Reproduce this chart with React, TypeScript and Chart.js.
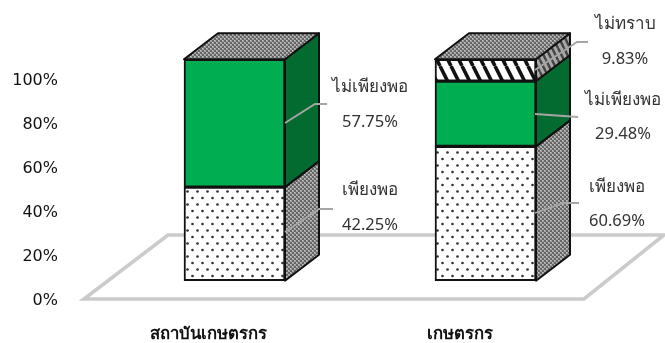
import React, { useEffect, useRef } from "react";
import { Chart, registerables } from "chart.js";

Chart.register(...registerables);

const categories = ["สถาบันเกษตรกร", "เกษตรกร"];
const seriesNames = ["เพียงพอ", "ไม่เพียงพอ", "ไม่ทราบ"];
const enough = [42.25, 60.69];
const notEnough = [57.75, 29.48];
const unknown = [null, 9.83];
const axisTicks = [0, 20, 40, 60, 80, 100];

const DX = 34;
const DY = -26;
const LEFT = 109;
const RIGHT = 54;
const TOP = 30;
const BOTTOM = 42;

// leader path and text anchor of each data label: [series, category, path, cx, nameY, valueY]
const callouts: [number, number, number[][], number, number, number][] = [
  [0, 0, [[285, 232], [319, 209], [333, 209]], 370, 190, 225],
  [1, 0, [[285, 123], [315, 104], [327, 104]], 370, 87, 122],
  [0, 1, [[535, 213], [563, 203], [579, 203]], 617, 187, 221],
  [1, 1, [[535, 114], [578, 117]], 623, 100, 134],
  [2, 1, [[535, 70], [577, 42], [588, 42]], 625, 24, 59],
];
const floorPath = [[84, 299], [168, 235], [664, 235], [584, 299]];

function tile(w: number, h: number, draw: (c: CanvasRenderingContext2D) => void) {
  const cv = document.createElement("canvas");
  cv.width = w;
  cv.height = h;
  const c = cv.getContext("2d")!;
  draw(c);
  return c.createPattern(cv, "repeat")!;
}

function dotFront() {
  return tile(10, 13, (c) => {
    c.fillStyle = "#ffffff";
    c.fillRect(0, 0, 10, 13);
    c.fillStyle = "#333333";
    for (const [x, y] of [[2.5, 3], [7.5, 9.5]]) {
      c.beginPath();
      c.arc(x, y, 1.35, 0, Math.PI * 2);
      c.fill();
    }
  });
}

function dotGray() {
  return tile(4, 4, (c) => {
    c.fillStyle = "#a2a2a2";
    c.fillRect(0, 0, 4, 4);
    c.fillStyle = "#666666";
    c.fillRect(0, 0, 2, 2);
    c.fillRect(2, 2, 2, 2);
    c.fillStyle = "#c4c4c4";
    c.fillRect(2, 0, 1, 1);
    c.fillRect(0, 2, 1, 1);
  });
}

function zebra(w: number, h: number, bg: string, fg: string, lw: number) {
  return tile(w, h, (c) => {
    c.fillStyle = bg;
    c.fillRect(0, 0, w, h);
    c.strokeStyle = fg;
    c.lineWidth = lw;
    for (const off of [-w, 0, w]) {
      c.beginPath();
      c.moveTo(off, 0);
      c.lineTo(off + w, h);
      c.stroke();
    }
  });
}

function noPadding(s: any) {
  s.paddingTop = 0;
  s.paddingBottom = 0;
  s.paddingLeft = 0;
  s.paddingRight = 0;
}

export default function App() {
  const ref = useRef<HTMLCanvasElement>(null);
  useEffect(() => {
    document.body.style.margin = "0";
    const pxPerPct = 2.214;
    const plotH = 343 - TOP - BOTTOM;
    const yMin = -20.3 / pxPerPct;
    const yMax = yMin + plotH / pxPerPct;

    const sideFills: (string | CanvasPattern)[] = [dotGray(), "#036b30", zebra(6, 12, "#a8a8a8", "#444444", 2.4)];
    const topFill = dotGray();

    const faces = {
      id: "faces",
      beforeDatasetsDraw(chart: any) {
        const c = chart.ctx;
        c.save();
        c.beginPath();
        floorPath.forEach(([x, y], i) => (i ? c.lineTo(x, y) : c.moveTo(x, y)));
        c.closePath();
        c.fillStyle = "#ffffff";
        c.fill();
        c.strokeStyle = "#cbcbcb";
        c.lineWidth = 3.6;
        c.lineJoin = "miter";
        c.stroke();
        c.restore();
      },
      afterDatasetsDraw(chart: any) {
        const c = chart.ctx;
        c.save();
        c.strokeStyle = "#111111";
        c.lineWidth = 2;
        c.lineJoin = "round";
        categories.forEach((_, ci) => {
          let top: any = null;
          chart.data.datasets.forEach((ds: any, si: number) => {
            if (ds.data[ci] == null) return;
            const el = chart.getDatasetMeta(si).data[ci];
            const r = el.x + el.width / 2;
            c.beginPath();
            c.moveTo(r, el.y);
            c.lineTo(r + DX, el.y + DY);
            c.lineTo(r + DX, el.base + DY);
            c.lineTo(r, el.base);
            c.closePath();
            c.fillStyle = sideFills[si];
            c.fill();
            c.stroke();
            top = el;
          });
          if (top) {
            const l = top.x - top.width / 2;
            const r = top.x + top.width / 2;
            c.beginPath();
            c.moveTo(l, top.y);
            c.lineTo(l + DX, top.y + DY);
            c.lineTo(r + DX, top.y + DY);
            c.lineTo(r, top.y);
            c.closePath();
            c.fillStyle = topFill;
            c.fill();
            c.stroke();
          }
        });
        c.restore();
      },
      afterDraw(chart: any) {
        const c = chart.ctx;
        c.save();
        c.textAlign = "center";
        c.textBaseline = "middle";
        for (const [si, ci, path, cx, nameY, valueY] of callouts) {
          c.beginPath();
          path.forEach(([x, y], i) => (i ? c.lineTo(x, y) : c.moveTo(x, y)));
          c.strokeStyle = "#a6a6a6";
          c.lineWidth = 1.8;
          c.stroke();
          c.fillStyle = "#333333";
          c.font = "17px 'Noto Sans', sans-serif";
          c.fillText(seriesNames[si], cx, nameY);
          c.font = "16.5px 'Noto Sans', sans-serif";
          c.fillText(`${(chart.data.datasets[si].data[ci] as number).toFixed(2)}%`, cx, valueY);
        }
        c.restore();
      },
    };

    const chart = new Chart(ref.current!, {
      type: "bar",
      data: {
        labels: categories,
        datasets: [
          { label: seriesNames[0], data: enough, backgroundColor: dotFront() },
          { label: seriesNames[1], data: notEnough, backgroundColor: "#00ad50" },
          { label: seriesNames[2], data: unknown, backgroundColor: zebra(11, 22, "#ffffff", "#111111", 3.6) },
        ].map((d) => ({
          ...d,
          yAxisID: "y",
          borderColor: "#111111",
          borderWidth: 2,
          borderSkipped: false,
          barThickness: 101,
        })) as any,
      },
      options: {
        responsive: false,
        animation: false,
        devicePixelRatio: 1,
        layout: { autoPadding: false, padding: { top: TOP, right: RIGHT, left: 0, bottom: 0 } },
        plugins: { legend: { display: false }, tooltip: { enabled: false } },
        scales: {
          x: {
            stacked: true,
            grid: { display: false },
            border: { display: false },
            afterFit: (s: any) => {
              s.height = BOTTOM;
              noPadding(s);
            },
            ticks: {
              padding: 15,
              labelOffset: -26,
              maxRotation: 0,
              color: "#111111",
              font: { family: "'Noto Sans', sans-serif", size: 16.7, weight: "bold" },
            },
          },
          y: { stacked: true, display: false, min: yMin, max: yMax },
          y2: {
            axis: "y",
            position: "left",
            min: 0,
            max: plotH / 2.2,
            grid: { display: false },
            border: { display: false },
            afterFit: (s: any) => {
              s.width = LEFT;
              noPadding(s);
            },
            afterBuildTicks: (s: any) => {
              s.ticks = axisTicks.map((value) => ({ value }));
            },
            ticks: {
              padding: 43,
              color: "#111111",
              callback: (v: any) => `${v}%`,
              font: { family: "'DejaVu Sans', sans-serif", size: 16 },
            },
          },
        } as any,
      },
      plugins: [faces],
    });
    return () => chart.destroy();
  }, []);
  return <canvas ref={ref} width={665} height={343} style={{ display: "block" }} />;
}
